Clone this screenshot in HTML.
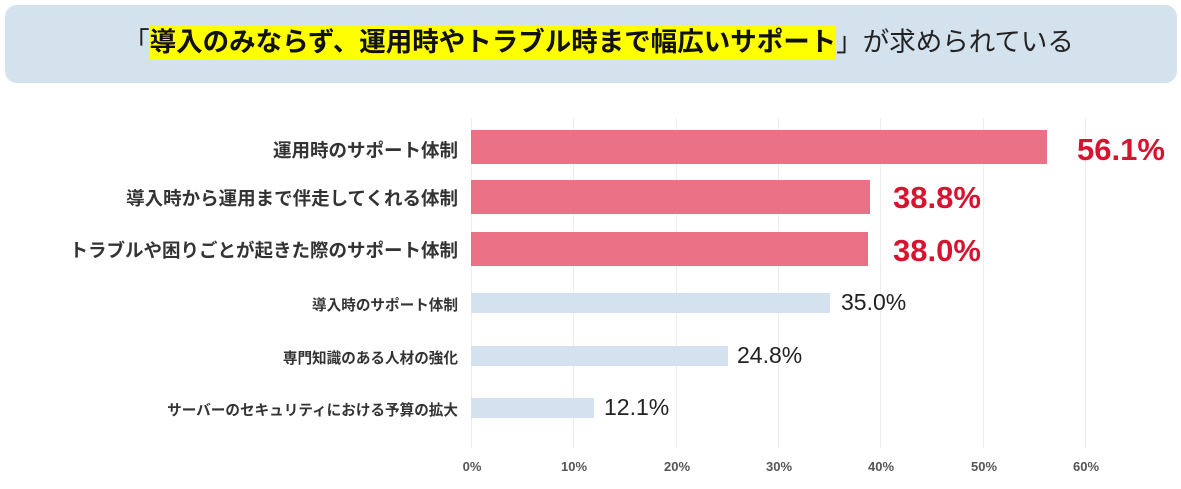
<!DOCTYPE html>
<html><head><meta charset="utf-8"><style>
body{margin:0;width:1181px;height:489px;background:#fff;position:relative;overflow:hidden;font-family:"Liberation Sans","Noto Sans CJK JP",sans-serif}
.t{position:absolute;left:5px;top:5px;width:1172px;height:78px;background:#d4e2ee;border-radius:12px}
.tt{position:absolute;left:8px;width:1181px;top:22px;text-align:center;font-size:26.5px;color:#222;white-space:nowrap;line-height:40px}
.hl{background:#ffff00;font-weight:bold;color:#111;padding:2px 0}
.g{position:absolute;top:118px;height:330px;width:1px;background:#eee}
.b{position:absolute;left:471px}
.lab{position:absolute;right:723px;text-align:right;font-weight:bold;color:#333;white-space:nowrap}
.v{position:absolute;white-space:nowrap}
.ax{position:absolute;top:459px;font-size:13px;font-weight:bold;color:#555;transform:translateX(-50%)}
</style></head><body>
<div class="t"></div>
<div class="tt">「<span class="hl">導入のみならず、運用時やトラブル時まで幅広いサポート</span>」が求められている</div>
<div class="g" style="left:471px"></div><div class="g" style="left:573px"></div><div class="g" style="left:676px"></div><div class="g" style="left:778px"></div><div class="g" style="left:880px"></div><div class="g" style="left:983px"></div><div class="g" style="left:1085px"></div>
<div class="b" style="top:130px;height:34px;width:576px;background:#ea7186"></div>
<div class="b" style="top:180px;height:34px;width:399px;background:#ea7186"></div>
<div class="b" style="top:232px;height:34px;width:397px;background:#ea7186"></div>
<div class="b" style="top:293px;height:20px;width:359px;background:#d3e2ee"></div>
<div class="b" style="top:346px;height:20px;width:257px;background:#d3e2ee"></div>
<div class="b" style="top:398px;height:20px;width:123px;background:#d3e2ee"></div>
<div class="lab" style="top:137px;font-size:18.5px">運用時のサポート体制</div>
<div class="lab" style="top:185px;font-size:18.5px">導入時から運用まで伴走してくれる体制</div>
<div class="lab" style="top:237px;font-size:18.5px">トラブルや困りごとが起きた際のサポート体制</div>
<div class="lab" style="top:294px;font-size:14.6px">導入時のサポート体制</div>
<div class="lab" style="top:347px;font-size:14.6px">専門知識のある人材の強化</div>
<div class="lab" style="top:399px;font-size:14.6px">サーバーのセキュリティにおける予算の拡大</div>
<div class="v" style="left:1077px;top:132px;font-size:31px;font-weight:bold;color:#d7142f">56.1%</div>
<div class="v" style="left:893px;top:180px;font-size:31px;font-weight:bold;color:#d7142f">38.8%</div>
<div class="v" style="left:893px;top:233px;font-size:31px;font-weight:bold;color:#d7142f">38.0%</div>
<div class="v" style="left:841px;top:289px;font-size:23px;color:#222">35.0%</div>
<div class="v" style="left:737px;top:342px;font-size:23px;color:#222">24.8%</div>
<div class="v" style="left:604px;top:394px;font-size:23px;color:#222">12.1%</div>
<div class="ax" style="left:472px">0%</div><div class="ax" style="left:574px">10%</div><div class="ax" style="left:677px">20%</div><div class="ax" style="left:779px">30%</div><div class="ax" style="left:881px">40%</div><div class="ax" style="left:984px">50%</div><div class="ax" style="left:1086px">60%</div>
</body></html>
